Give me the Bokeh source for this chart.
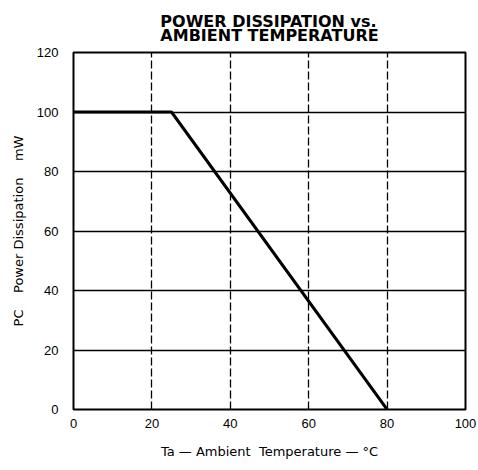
from bokeh.plotting import figure
from bokeh.models import Range1d, Title, FixedTicker
from bokeh.embed import file_html
from bokeh.resources import INLINE

# data
temps = [0, 25, 80]
power = [100, 100, 0]
x_ticks = [0, 20, 40, 60, 80, 100]
y_ticks = [0, 20, 40, 60, 80, 100, 120]
title_lines = ["POWER DISSIPATION vs.", "AMBIENT TEMPERATURE"]
x_label = "Ta \u2014 Ambient\u00a0\u00a0Temperature \u2014 \u00b0C"
y_label = "PC\u00a0\u00a0\u00a0\u00a0Power Dissipation\u00a0\u00a0\u00a0\u00a0mW"

p = figure(frame_width=392, frame_height=357, output_backend="svg",
           toolbar_location=None,
           x_range=Range1d(0, 100), y_range=Range1d(0, 120),
           min_border_left=73, min_border_right=13, min_border_top=52,
           min_border_bottom=55)

p.add_layout(Title(text="\n".join(title_lines), align="center",
                   text_font="DejaVu Sans", text_font_size="16px",
                   text_font_style="bold", text_color="black",
                   text_line_height=0.75, standoff=12,
                   vertical_align="top"), "above")

p.line(temps, power, line_color="black", line_width=3)

p.outline_line_color = "black"
p.outline_line_width = 2
p.outline_line_alpha = 1

for ax, ticks in ((p.xaxis, x_ticks), (p.yaxis, y_ticks)):
    ax.ticker = FixedTicker(ticks=ticks)
    ax.axis_line_color = None
    ax.major_tick_line_color = None
    ax.minor_tick_line_color = None
    ax.major_label_text_font = "Liberation Sans"
    ax.major_label_text_font_size = "13px"
    ax.major_label_text_color = "black"
    ax.axis_label_text_font = "DejaVu Sans"
    ax.axis_label_text_font_size = "13px"
    ax.axis_label_text_font_style = "normal"
    ax.axis_label_text_color = "black"

p.xaxis.axis_label = x_label
p.yaxis.axis_label = y_label
p.xaxis.major_label_standoff = 3
p.yaxis.major_label_standoff = 9
p.xaxis.axis_label_standoff = 13
p.yaxis.axis_label_standoff = 8

p.xgrid.ticker = FixedTicker(ticks=x_ticks)
p.ygrid.ticker = FixedTicker(ticks=y_ticks)
p.xgrid.grid_line_color = "black"
p.xgrid.grid_line_width = 1.3
p.xgrid.grid_line_dash = "8 3"
p.ygrid.grid_line_color = "black"
p.ygrid.grid_line_width = 1.5
p.background_fill_color = "white"
p.border_fill_color = "white"

open("out.html", "w").write(file_html(p, INLINE))
